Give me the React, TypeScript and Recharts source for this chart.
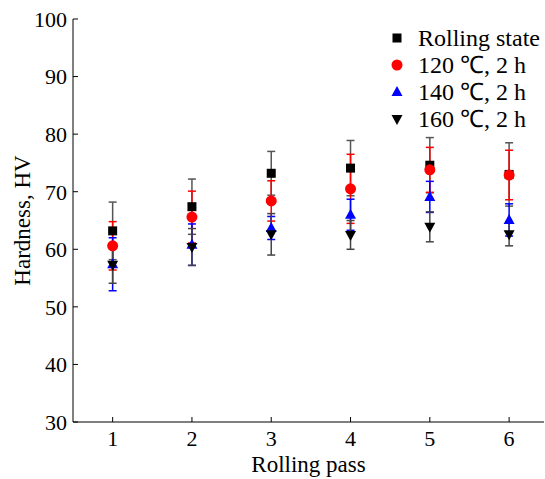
import { ScatterChart, Scatter, XAxis, YAxis, ErrorBar, Legend } from "recharts";

const passes = [1, 2, 3, 4, 5, 6];
const yTicks = [30, 40, 50, 60, 70, 80, 90, 100];

const rollingState = [63.2, 67.4, 73.2, 74.1, 74.6, 73.0];
const rollingStateErr = [5.0, 4.8, 3.8, 4.8, 4.8, 5.5];
const aged120 = [60.6, 65.6, 68.4, 70.5, 73.8, 72.9];
const aged120Err = [4.2, 4.5, 3.5, 6.0, 3.9, 4.3];
const aged140 = [57.4, 60.8, 63.7, 66.0, 69.1, 65.1];
const aged140Err = [4.6, 3.6, 2.0, 2.7, 2.7, 2.8];
const aged160 = [57.3, 60.4, 62.6, 62.5, 63.9, 62.6];
const aged160Err = [3.2, 3.2, 3.6, 2.5, 2.6, 2.0];

const FONT = '"Liberation Serif", "Times New Roman", serif';

const toPoints = (vals: number[], errs: number[]) =>
  passes.map((p, i) => ({ x: p, y: vals[i], err: errs[i] }));

type Marker = "square" | "circle" | "up" | "down";

function drawMarker(kind: Marker, cx: number, cy: number, fill: string) {
  if (kind === "square")
    return <rect x={cx - 4.5} y={cy - 4.5} width={9} height={9} fill={fill} />;
  if (kind === "circle") return <circle cx={cx} cy={cy} r={5.5} fill={fill} />;
  if (kind === "up")
    return (
      <polygon
        points={`${cx},${cy - 6} ${cx - 5.5},${cy + 4} ${cx + 5.5},${cy + 4}`}
        fill={fill}
      />
    );
  return (
    <polygon
      points={`${cx - 5.5},${cy - 4} ${cx + 5.5},${cy - 4} ${cx},${cy + 6}`}
      fill={fill}
    />
  );
}

const series = [
  { name: "Rolling state", data: toPoints(rollingState, rollingStateErr), color: "#000000", bar: "#555555", marker: "square" as Marker },
  { name: "120 ℃, 2 h", data: toPoints(aged120, aged120Err), color: "#ff0000", bar: "#ff0000", marker: "circle" as Marker },
  { name: "140 ℃, 2 h", data: toPoints(aged140, aged140Err), color: "#0000ff", bar: "#0000ff", marker: "up" as Marker },
  { name: "160 ℃, 2 h", data: toPoints(aged160, aged160Err), color: "#000000", bar: "#444444", marker: "down" as Marker },
];

function LegendBox() {
  return (
    <svg width={160} height={110}>
      {series.map((s, i) => (
        <g key={s.name}>
          {drawMarker(s.marker, 9, 16 + i * 27, s.color)}
          <text x={30} y={16 + i * 27} dy="0.35em" fontFamily={FONT} fontSize={24} fill="#000">
            {s.name}
          </text>
        </g>
      ))}
    </svg>
  );
}

export default function App() {
  return (
    <div style={{ position: "absolute", left: 0, top: 0, background: "#fff" }}>
      <ScatterChart width={545} height={479} margin={{ top: 19, right: 1, bottom: 0, left: 0 }}>
        <XAxis
          xAxisId="top"
          orientation="top"
          type="number"
          domain={[0.5, 6.44]}
          height={0}
          tick={false}
          tickLine={false}
          axisLine={{ stroke: "#000" }}
        />
        <XAxis
          type="number"
          dataKey="x"
          domain={[0.5, 6.44]}
          ticks={passes}
          allowDataOverflow
          height={57}
          tickSize={-5}
          tickMargin={13}
          axisLine={{ stroke: "#000" }}
          tickLine={{ stroke: "#000" }}
          tick={{ fill: "#000", fontFamily: FONT, fontSize: 22 }}
          label={({ viewBox }: any) => (
            <text
              x={viewBox.x + viewBox.width / 2}
              y={viewBox.y + 50}
              textAnchor="middle"
              fontFamily={FONT}
              fontSize={23}
              fill="#000"
            >
              Rolling pass
            </text>
          )}
        />
        <YAxis
          type="number"
          dataKey="y"
          domain={[30, 100]}
          ticks={yTicks}
          width={73}
          tickSize={-5}
          tickMargin={11}
          axisLine={{ stroke: "#000" }}
          tickLine={{ stroke: "#000" }}
          tick={{ fill: "#000", fontFamily: FONT, fontSize: 22 }}
          label={({ viewBox }: any) => {
            const x = viewBox.x + 22;
            const y = viewBox.y + viewBox.height / 2;
            return (
              <text
                x={x}
                y={y}
                transform={`rotate(-90 ${x} ${y})`}
                textAnchor="middle"
                dominantBaseline="central"
                fontFamily={FONT}
                fontSize={23}
                fill="#000"
              >
                Hardness, HV
              </text>
            );
          }}
        />
        <Legend
          layout="horizontal"
          align="center"
          verticalAlign="middle"
          wrapperStyle={{ position: "absolute", left: 388, top: 22, width: 160, height: 110 }}
          content={() => <LegendBox />}
        />
        {series.map((s) => (
          <Scatter
            key={s.name}
            name={s.name}
            data={s.data}
            fill={s.color}
            isAnimationActive={false}
            shape={(p: any) => drawMarker(s.marker, p.cx, p.cy, s.color)}
          >
            <ErrorBar dataKey="err" direction="y" width={4} stroke={s.bar} strokeWidth={1.5} />
          </Scatter>
        ))}
      </ScatterChart>
    </div>
  );
}
